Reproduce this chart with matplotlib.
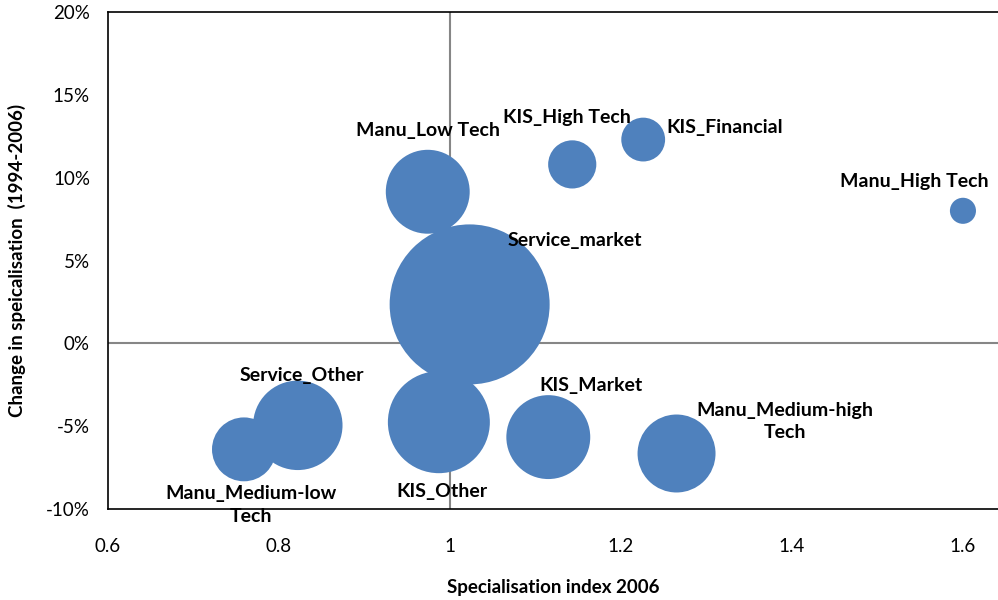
import matplotlib
matplotlib.use("Agg")
import matplotlib.pyplot as plt
from matplotlib.ticker import FuncFormatter

plt.rcParams['font.family'] = ['Lato', 'DejaVu Sans']

sectors = ["Manu_Low Tech", "KIS_High Tech", "KIS_Financial", "Manu_High Tech",
           "Service_market", "Service_Other", "Manu_Medium-low\nTech", "KIS_Other",
           "KIS_Market", "Manu_Medium-high\nTech"]
spec_index = [0.974, 1.143, 1.226, 1.600, 1.023, 0.822, 0.759, 0.987, 1.115, 1.265]
spec_change = [0.0915, 0.108, 0.123, 0.080, 0.0235, -0.0495, -0.064, -0.0476, -0.0566, -0.0665]
bubble_size = [17.6, 5.8, 4.8, 1.7, 64.0, 20.0, 10.2, 26.0, 17.6, 15.2]

# label offsets in points (dx, dy) and alignment
label_pos = [(0, 44, 'center'), (-4, 34, 'center'), (17, 9, 'left'), (-35, 21, 'center'),
             (27, 46, 'left'), (3, 36, 'center'), (5, -40, 'center'), (2, -50, 'center'),
             (31, 37.5, 'center'), (78, 23, 'center')]

fig = plt.figure(figsize=(9.98, 6), dpi=100)
ax = fig.add_axes([108 / 998, 91 / 600, 890 / 998, 497 / 600])

sizes = [v * 100 * 1.44 ** 2 for v in bubble_size]
ax.scatter(spec_index, spec_change, s=sizes, color='#4F81BD', linewidths=0, zorder=3)

ax.axvline(1, color='#868686', lw=1.5, zorder=1)
ax.axhline(0, color='#868686', lw=1.5, zorder=1)

for name, x, y, (dx, dy, ha) in zip(sectors, spec_index, spec_change, label_pos):
    ax.annotate(name, (x, y), xytext=(dx, dy), textcoords='offset points',
                ha=ha, va='center', fontsize=14, fontweight='bold', zorder=4,
                linespacing=1.4)

ax.set_xlim(0.6, 1.641)
ax.set_ylim(-0.10, 0.20)
ax.set_xticks([0.6, 0.8, 1.0, 1.2, 1.4, 1.6])
ax.set_xticklabels(['0.6', '0.8', '1', '1.2', '1.4', '1.6'])
ax.set_yticks([-0.10, -0.05, 0, 0.05, 0.10, 0.15, 0.20])
ax.yaxis.set_major_formatter(FuncFormatter(lambda v, p: f"{v * 100:.0f}%"))
ax.tick_params(length=0, labelsize=13.5, pad=13)
ax.tick_params(axis='x', pad=21)
ax.spines['right'].set_visible(False)
for s in ['left', 'top', 'bottom']:
    ax.spines[s].set_linewidth(1.2)

ax.set_xlabel("Specialisation index 2006", fontsize=13.5, fontweight='bold', va='center')
ax.set_ylabel("Change in speicalisation  (1994-2006)", fontsize=13.5, fontweight='bold', va='center')
ax.xaxis.set_label_coords(0.5, (509 - 587) / 497)
ax.yaxis.set_label_coords((17 - 108) / 890, 0.5)

fig.savefig("out.png", dpi=100)
